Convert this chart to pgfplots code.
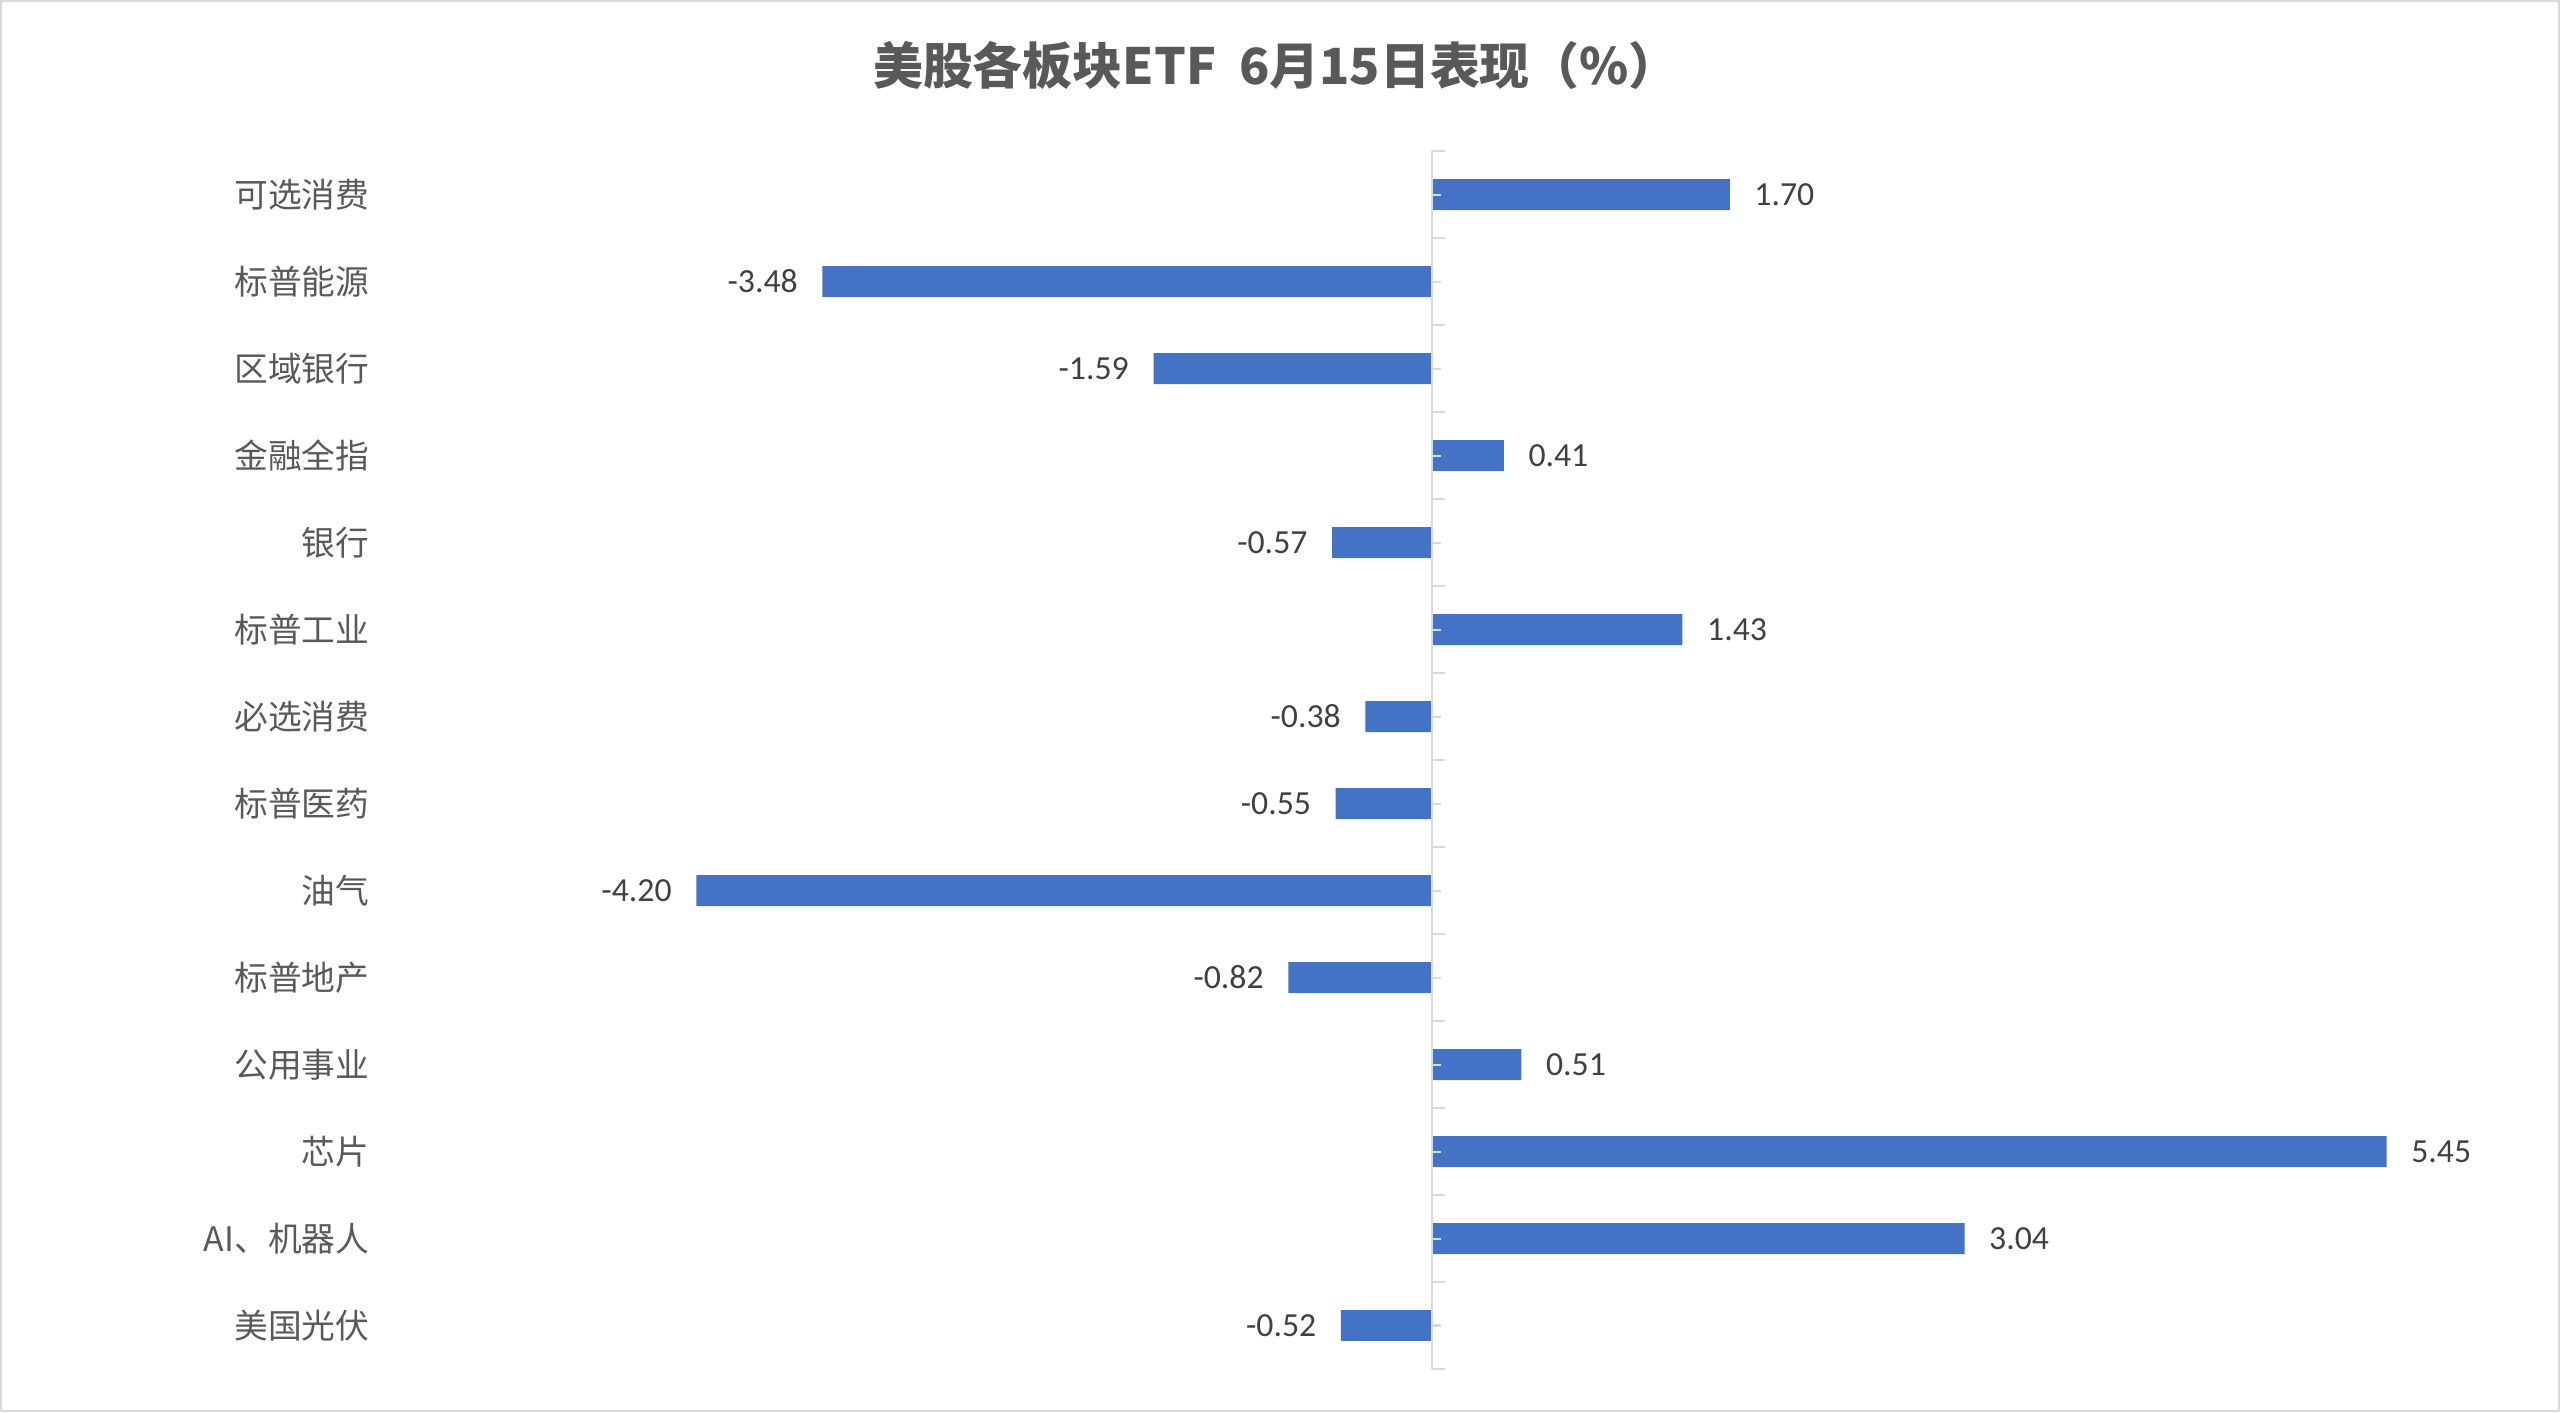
\documentclass[border=0pt]{standalone}
\usepackage{fontspec}
\usepackage{pgfplots}
\pgfplotsset{compat=1.18}
\setmainfont{Carlito}
\newfontfamily\cjk{Noto Sans CJK SC}
\definecolor{barblue}{HTML}{4472C4}
\definecolor{axgray}{HTML}{D9D9D9}
\definecolor{txtgray}{HTML}{595959}
\definecolor{lblgray}{HTML}{404040}
\begin{document}
\begin{tikzpicture}[x=1mm,y=1mm]
\draw[axgray, line width=0.6pt] (0.1,0.1) rectangle (255.9,141.1);
\node[text=txtgray, font=\cjk\bfseries\fontsize{14.2pt}{17pt}\selectfont] at (127.6,134.7) {美股各板块ETF\ \ 6月15日表现（\%）};
\begin{axis}[
  at={(38.1mm,126.1mm)}, anchor=north west,
  scale only axis, width=210.2mm, height=121.8mm,
  xbar, bar width=3.1mm,
  xmin=-6, xmax=6, ymin=-0.5, ymax=13.5, y dir=reverse,
  axis lines*=left, axis line style={draw=none},
  xtick=\empty, ytick={0,...,13},
  yticklabels={可选消费,标普能源,区域银行,金融全指,银行,标普工业,必选消费,标普医药,油气,标普地产,公用事业,芯片,AI、机器人,美国光伏},
  major tick length=0pt,
  yticklabel style={font=\cjk\fontsize{9.6pt}{11pt}\selectfont, text=txtgray, inner xsep=1.1mm},
  point meta=x,
  nodes near coords={\pgfmathprintnumber[fixed,fixed zerofill,precision=2,assume math mode=true]{\pgfplotspointmeta}},
  nodes near coords align=horizontal,
  every node near coord/.append style={font=\fontsize{9.6pt}{11pt}\selectfont, text=lblgray, inner xsep=2.4mm},
  clip=false,
]
\addplot[fill=barblue, draw=none] coordinates {
(1.70,0) (-3.48,1) (-1.59,2) (0.41,3) (-0.57,4) (1.43,5) (-0.38,6)
(-0.55,7) (-4.20,8) (-0.82,9) (0.51,10) (5.45,11) (3.04,12) (-0.52,13)};
\draw[axgray, line width=0.57pt] (axis cs:0,-0.5) -- (axis cs:0,13.5);
\pgfplotsinvokeforeach{-0.5,0.5,...,13.5}{\draw[axgray, line width=0.57pt] (axis cs:0,#1) -- ([xshift=1.3mm]axis cs:0,#1);}
\pgfplotsinvokeforeach{0,1,...,13}{\draw[axgray, line width=0.57pt] (axis cs:0,#1) -- ([xshift=0.9mm]axis cs:0,#1);}
\end{axis}
\end{tikzpicture}
\end{document}
